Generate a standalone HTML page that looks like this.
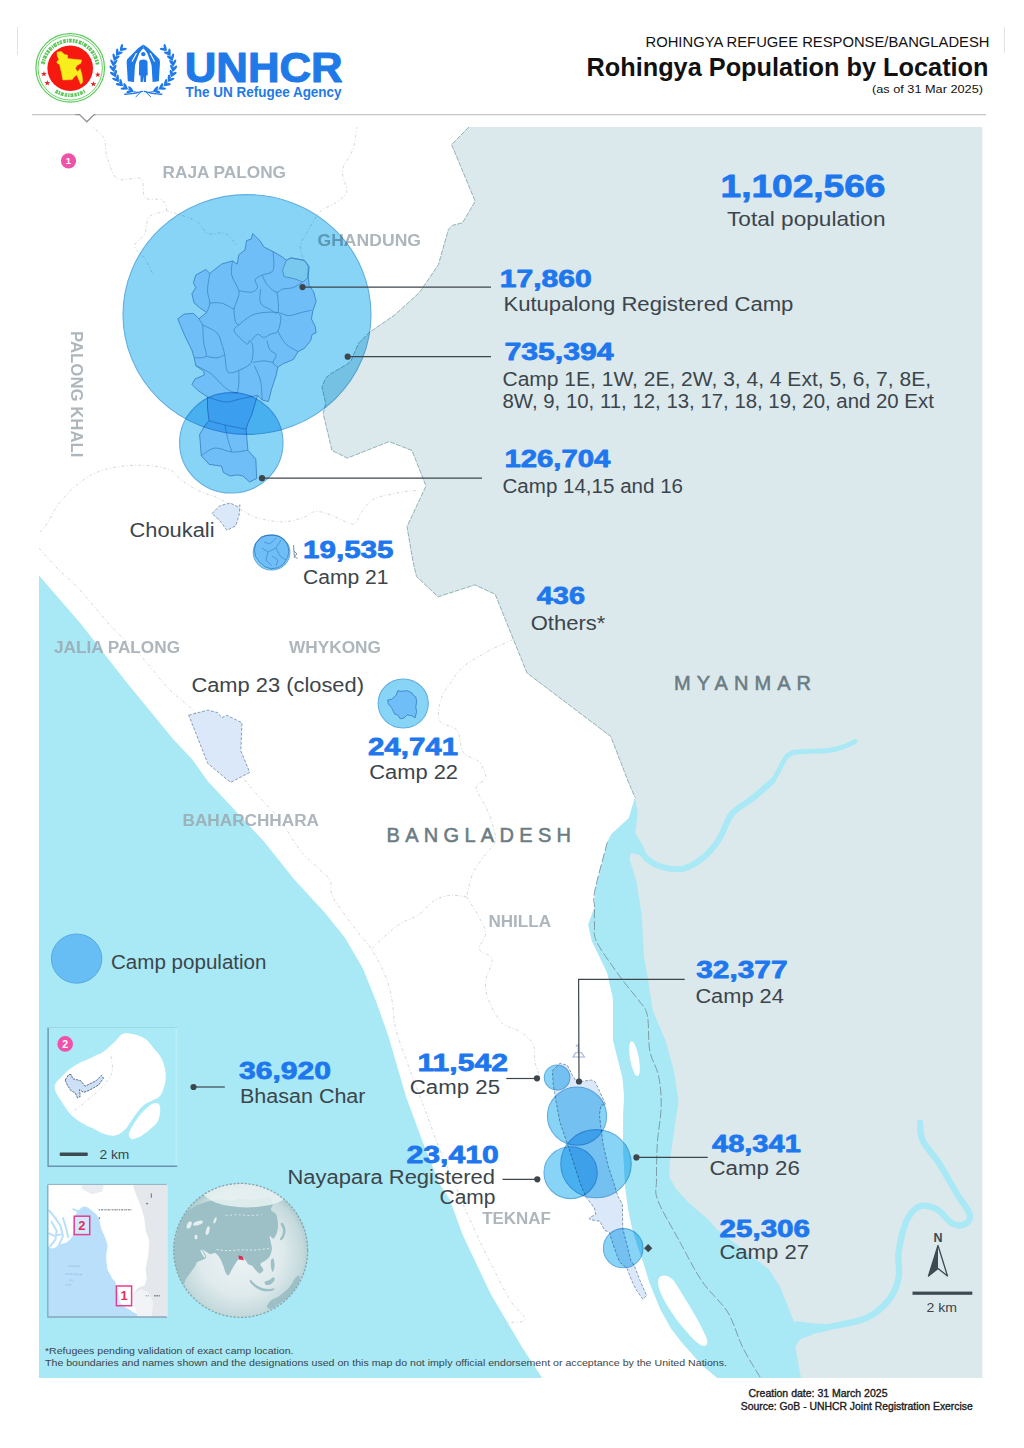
<!DOCTYPE html>
<html lang="en"><head><meta charset="utf-8">
<title>Rohingya Population by Location</title>
<style>
html,body{margin:0;padding:0;background:#fff;}
body{width:1024px;height:1448px;overflow:hidden;font-family:"Liberation Sans",sans-serif;}
svg{display:block;position:absolute;left:0;top:0;}
svg text{font-family:"Liberation Sans",sans-serif;}
.num{font-weight:bold;fill:#1f77ee;stroke:#1f77ee;stroke-width:0.8px;stroke-linejoin:round;}
.lab{fill:#3c454b;}
.reg{font-weight:bold;fill:#98a4ab;fill-opacity:.8;}
.ctry{font-weight:normal;fill:#6b7d83;stroke:#6b7d83;stroke-width:.55px;}
.ld{stroke:#3d464c;stroke-width:1.2;fill:none;}
.dot{fill:#3d464c;}
.circ{fill:#87d4f7;stroke:#62aee0;stroke-width:1.1;mix-blend-mode:multiply;}
.camp{fill:#d3e5ff;stroke:#6394c6;stroke-opacity:.9;stroke-width:.9;stroke-linejoin:round;}
.campo{fill:#dbe8f9;stroke:#7d95ad;stroke-width:.9;stroke-dasharray:3 1.6;stroke-linejoin:round;}
.ub{fill:none;stroke:#c9ced2;stroke-width:.8;stroke-dasharray:3 2.2 1 2.2;}
</style></head><body>
<svg width="1024" height="1448" viewBox="0 0 1024 1448">
<rect x="0" y="0" width="1024" height="1448" fill="#ffffff"/>
<rect x="17" y="27" width="1" height="28" fill="#e2e2e2"/>
<rect x="1004" y="27" width="1" height="26" fill="#e2e2e2"/>
<path d="M32,114.6 L76,114.6 M95,114.6 L986,114.6" fill="none" stroke="#c4c6c8" stroke-width="1.3"/>
<path d="M75.5,114.6 L79.5,114.6 L86.8,121.8 L94.2,114.6 L95.5,114.6" fill="none" stroke="#8e9092" stroke-width="1.3"/>
<circle cx="70.2" cy="67.9" r="34.3" fill="#fff" stroke="#5bcb58" stroke-width="1.2"/>
<circle cx="70.2" cy="67.9" r="32.2" fill="none" stroke="#5bcb58" stroke-width=".9"/>
<path d="M42.9,64.1 A27.6,27.6 0 0 1 97.6,65.0" fill="none" stroke="#58c455" stroke-width="3.8" stroke-dasharray="2.7 .9 1.3 .8 3.1 1 1.9 .8 2.3 1.1"/>
<path d="M42.9,64.1 A27.6,27.6 0 0 1 97.6,65.0" fill="none" stroke="#fff" stroke-width=".9" stroke-dasharray="1.2 2.1 .8 1.7" opacity=".8"/>
<path d="M55.7,91.1 A27.4,27.4 0 0 0 84.7,91.1" fill="none" stroke="#58c455" stroke-width="3.6" stroke-dasharray="2.5 .8 1.6 .9 2.9 1"/>
<path d="M55.7,91.1 A27.4,27.4 0 0 0 84.7,91.1" fill="none" stroke="#fff" stroke-width=".9" stroke-dasharray="1 1.9 .7 1.6" opacity=".8"/>
<circle cx="70.2" cy="68.2" r="22.8" fill="#f5190f"/>
<polygon points="57.0,52.2 61.2,51.4 64.4,54.6 67.5,55.0 67.5,58.5 73.8,59.2 81.6,60.0 80.8,63.2 76.9,65.5 75.3,68.6 77.7,71.8 80.0,68.6 82.0,74.9 82.7,81.9 80.8,84.2 78.4,78.8 76.9,74.9 74.5,76.4 72.2,79.6 62.8,80.0 62.0,74.9 60.5,68.6 59.7,64.7 56.6,62.4 58.9,59.2 57.3,56.1" fill="#f8ee1c" stroke="#f8ee1c" stroke-width=".5" stroke-linejoin="round"/>
<polygon points="43.9,71.1 44.6,73.1 46.8,73.2 45.1,74.5 45.7,76.5 43.9,75.3 42.1,76.5 42.7,74.5 41.0,73.2 43.2,73.1" fill="#e3262a"/>
<polygon points="47.3,80.1 48.0,82.1 50.2,82.2 48.5,83.5 49.1,85.5 47.3,84.3 45.5,85.5 46.1,83.5 44.4,82.2 46.6,82.1" fill="#e3262a"/>
<polygon points="97.8,71.7 98.5,73.7 100.7,73.8 99.0,75.1 99.6,77.1 97.8,76.0 96.0,77.1 96.6,75.1 94.9,73.8 97.1,73.7" fill="#e3262a"/>
<polygon points="93.4,81.1 94.1,83.1 96.3,83.2 94.6,84.5 95.2,86.5 93.4,85.3 91.6,86.5 92.2,84.5 90.5,83.2 92.7,83.1" fill="#e3262a"/>
<ellipse cx="121.5" cy="47.5" rx="3.5" ry="1.3" fill="#1f7ae8" transform="rotate(-78 121.5 47.5)"/>
<ellipse cx="123.3" cy="49.3" rx="3.5" ry="1.3" fill="#1f7ae8" transform="rotate(-10 123.3 49.3)"/>
<ellipse cx="117.2" cy="51.9" rx="3.5" ry="1.3" fill="#1f7ae8" transform="rotate(-90 117.2 51.9)"/>
<ellipse cx="119.4" cy="53.3" rx="3.5" ry="1.3" fill="#1f7ae8" transform="rotate(-22 119.4 53.3)"/>
<ellipse cx="114.1" cy="57.0" rx="3.5" ry="1.3" fill="#1f7ae8" transform="rotate(-104 114.1 57.0)"/>
<ellipse cx="116.6" cy="57.9" rx="3.5" ry="1.3" fill="#1f7ae8" transform="rotate(-36 116.6 57.9)"/>
<ellipse cx="112.4" cy="62.6" rx="3.5" ry="1.3" fill="#1f7ae8" transform="rotate(-118 112.4 62.6)"/>
<ellipse cx="114.9" cy="62.8" rx="3.5" ry="1.3" fill="#1f7ae8" transform="rotate(-50 114.9 62.8)"/>
<ellipse cx="112.0" cy="68.4" rx="3.5" ry="1.3" fill="#1f7ae8" transform="rotate(-132 112.0 68.4)"/>
<ellipse cx="114.5" cy="68.0" rx="3.5" ry="1.3" fill="#1f7ae8" transform="rotate(-64 114.5 68.0)"/>
<ellipse cx="113.0" cy="74.2" rx="3.5" ry="1.3" fill="#1f7ae8" transform="rotate(-146 113.0 74.2)"/>
<ellipse cx="115.4" cy="73.2" rx="3.5" ry="1.3" fill="#1f7ae8" transform="rotate(-78 115.4 73.2)"/>
<ellipse cx="115.5" cy="79.6" rx="3.5" ry="1.3" fill="#1f7ae8" transform="rotate(-159 115.5 79.6)"/>
<ellipse cx="117.6" cy="78.1" rx="3.5" ry="1.3" fill="#1f7ae8" transform="rotate(-91 117.6 78.1)"/>
<ellipse cx="119.3" cy="84.5" rx="3.5" ry="1.3" fill="#1f7ae8" transform="rotate(-172 119.3 84.5)"/>
<ellipse cx="121.0" cy="82.5" rx="3.5" ry="1.3" fill="#1f7ae8" transform="rotate(-104 121.0 82.5)"/>
<ellipse cx="124.1" cy="88.5" rx="3.5" ry="1.3" fill="#1f7ae8" transform="rotate(176 124.1 88.5)"/>
<ellipse cx="125.4" cy="86.3" rx="3.5" ry="1.3" fill="#1f7ae8" transform="rotate(-116 125.4 86.3)"/>
<ellipse cx="129.8" cy="91.5" rx="3.5" ry="1.3" fill="#1f7ae8" transform="rotate(165 129.8 91.5)"/>
<ellipse cx="130.7" cy="89.1" rx="3.5" ry="1.3" fill="#1f7ae8" transform="rotate(-127 130.7 89.1)"/>
<path d="M119.7,51.1 A30.0,25.8 0 0 0 138.1,92.4" fill="none" stroke="#1f7ae8" stroke-width=".8"/>
<ellipse cx="165.1" cy="47.5" rx="3.5" ry="1.3" fill="#1f7ae8" transform="rotate(258 165.1 47.5)"/>
<ellipse cx="163.3" cy="49.3" rx="3.5" ry="1.3" fill="#1f7ae8" transform="rotate(190 163.3 49.3)"/>
<ellipse cx="169.4" cy="51.9" rx="3.5" ry="1.3" fill="#1f7ae8" transform="rotate(270 169.4 51.9)"/>
<ellipse cx="167.2" cy="53.3" rx="3.5" ry="1.3" fill="#1f7ae8" transform="rotate(202 167.2 53.3)"/>
<ellipse cx="172.5" cy="57.0" rx="3.5" ry="1.3" fill="#1f7ae8" transform="rotate(284 172.5 57.0)"/>
<ellipse cx="170.0" cy="57.9" rx="3.5" ry="1.3" fill="#1f7ae8" transform="rotate(216 170.0 57.9)"/>
<ellipse cx="174.2" cy="62.6" rx="3.5" ry="1.3" fill="#1f7ae8" transform="rotate(298 174.2 62.6)"/>
<ellipse cx="171.7" cy="62.8" rx="3.5" ry="1.3" fill="#1f7ae8" transform="rotate(230 171.7 62.8)"/>
<ellipse cx="174.6" cy="68.4" rx="3.5" ry="1.3" fill="#1f7ae8" transform="rotate(312 174.6 68.4)"/>
<ellipse cx="172.1" cy="68.0" rx="3.5" ry="1.3" fill="#1f7ae8" transform="rotate(244 172.1 68.0)"/>
<ellipse cx="173.6" cy="74.2" rx="3.5" ry="1.3" fill="#1f7ae8" transform="rotate(326 173.6 74.2)"/>
<ellipse cx="171.2" cy="73.2" rx="3.5" ry="1.3" fill="#1f7ae8" transform="rotate(258 171.2 73.2)"/>
<ellipse cx="171.1" cy="79.6" rx="3.5" ry="1.3" fill="#1f7ae8" transform="rotate(339 171.1 79.6)"/>
<ellipse cx="169.0" cy="78.1" rx="3.5" ry="1.3" fill="#1f7ae8" transform="rotate(271 169.0 78.1)"/>
<ellipse cx="167.3" cy="84.5" rx="3.5" ry="1.3" fill="#1f7ae8" transform="rotate(352 167.3 84.5)"/>
<ellipse cx="165.6" cy="82.5" rx="3.5" ry="1.3" fill="#1f7ae8" transform="rotate(284 165.6 82.5)"/>
<ellipse cx="162.5" cy="88.5" rx="3.5" ry="1.3" fill="#1f7ae8" transform="rotate(4 162.5 88.5)"/>
<ellipse cx="161.2" cy="86.3" rx="3.5" ry="1.3" fill="#1f7ae8" transform="rotate(296 161.2 86.3)"/>
<ellipse cx="156.8" cy="91.5" rx="3.5" ry="1.3" fill="#1f7ae8" transform="rotate(15 156.8 91.5)"/>
<ellipse cx="155.9" cy="89.1" rx="3.5" ry="1.3" fill="#1f7ae8" transform="rotate(307 155.9 89.1)"/>
<path d="M166.9,51.1 A30.0,25.8 0 0 1 148.5,92.4" fill="none" stroke="#1f7ae8" stroke-width=".8"/>
<path d="M124.80000000000001,94.2 Q135.3,93.8 142.3,91.4 M161.8,94.2 Q151.3,93.8 144.3,91.4" fill="none" stroke="#1f7ae8" stroke-width="1.5" stroke-linecap="round"/>
<path d="M140.3,92.5 L135.9,96.8 M146.3,92.5 L150.70000000000002,96.8" stroke="#1f7ae8" stroke-width="1" stroke-linecap="round"/>
<path d="M143.3,44.6 L138.0,48.3 L127.2,59.3 L126.6,62 L127.8,81.3 L134.0,82 L135.0,65.5 L136.4,61 L139.2,53.5 L141.6,50 L143.3,48.4 Z" fill="#1f7ae8"/>
<path d="M132.2,61.2 L136.3,53.6" stroke="#fff" stroke-width="1.1" stroke-linecap="round"/>
<path d="M143.3,44.6 L148.6,48.3 L159.4,59.3 L160.0,62 L158.8,81.3 L152.6,82 L151.6,65.5 L150.2,61 L147.4,53.5 L145.0,50 L143.3,48.4 Z" fill="#1f7ae8"/>
<path d="M154.4,61.2 L150.3,53.6" stroke="#fff" stroke-width="1.1" stroke-linecap="round"/>
<circle cx="143.3" cy="54.2" r="2.15" fill="#1f7ae8"/>
<path d="M139.10000000000002,62 Q139.3,59.6 143.3,59.4 Q147.3,59.6 147.5,62 L147.70000000000002,75.2 L146.20000000000002,75.6 L146.0,82 L143.8,82 L143.3,76.5 L142.8,82 L140.60000000000002,82 L140.4,75.6 L138.9,75.2 Z" fill="#1f7ae8"/>
<text x="184.7" y="82" font-size="42" font-weight="bold" fill="#1f7ae8" stroke="#1f7ae8" stroke-width="1.1" stroke-linejoin="round" textLength="158" lengthAdjust="spacingAndGlyphs">UNHCR</text>
<text x="185.6" y="96.7" font-size="14.6" font-weight="bold" fill="#1f7ae8" textLength="156" lengthAdjust="spacingAndGlyphs">The UN Refugee Agency</text>
<text x="989.5" y="47.1" font-size="14.2" fill="#111" text-anchor="end" textLength="344" lengthAdjust="spacingAndGlyphs">ROHINGYA REFUGEE RESPONSE/BANGLADESH</text>
<text x="988.5" y="75.6" font-size="25" font-weight="bold" fill="#111" text-anchor="end" textLength="402" lengthAdjust="spacingAndGlyphs">Rohingya Population by Location</text>
<text x="983" y="93.4" font-size="11.6" fill="#111" text-anchor="end" textLength="111" lengthAdjust="spacingAndGlyphs">(as of 31 Mar 2025)</text>
<defs><clipPath id="mapclip"><rect x="39" y="127" width="943.5" height="1251"/></clipPath></defs>
<g clip-path="url(#mapclip)">
<path d="M39.0,575.5 L80.8,623.8 L126.5,682.2 L172.2,738.0 L192.7,760.0 L207.8,781.2 L230.8,805.7 L263.8,841.3 L294.3,879.4 L324.7,912.4 L345.0,937.8 L362.8,968.2 L373.0,993.6 L375.6,1000.0 L388.2,1035.6 L406.0,1096.5 L423.8,1144.7 L439.0,1182.8 L450.0,1200.0 L462.5,1234.4 L490.6,1293.8 L521.9,1346.9 L542.2,1378.0 L39.0,1378.0 Z" fill="#a8e9f5"/>
<path d="M468.9,127.0 L451.6,144.6 L475.2,201.3 L462.5,222.8 L452.4,225.4 L448.5,229.2 L438.4,264.7 L419.3,292.7 L394.0,315.5 L369.8,332.0 L358.4,343.5 L350.8,361.2 L347.3,364.1 L330.5,373.9 L325.7,378.1 L321.9,387.0 L325.7,403.5 L323.2,413.6 L332.0,450.5 L347.3,458.1 L389.2,441.6 L412.0,450.5 L426.0,486.0 L407.0,526.6 L412.7,560.0 L416.5,576.5 L438.1,596.8 L474.9,584.9 L495.2,594.3 L527.0,673.0 L610.8,736.5 L627.6,780.0 L635.0,797.5 L628.9,818.1 L611.1,834.6 L607.3,842.2 L594.6,891.7 L594.6,907.0 L588.2,924.7 L592.0,941.3 L607.3,973.0 L612.4,995.8 L613.0,1000.0 L613.0,1040.0 L617.7,1058.7 L622.4,1077.3 L624.2,1096.0 L623.3,1114.6 L623.0,1133.3 L623.3,1152.0 L624.2,1170.6 L625.5,1189.3 L628.0,1207.9 L631.7,1226.6 L637.3,1245.2 L643.8,1263.9 L649.4,1282.5 L660.5,1309.5 L671.3,1328.8 L681.9,1342.5 L702.2,1365.4 L717.4,1378.0 L982.5,1378.0 L982.5,127.0 Z" fill="#dbe8ec"/>
<path d="M468.9,127.0 L451.6,144.6 L475.2,201.3 L462.5,222.8 L452.4,225.4 L448.5,229.2 L438.4,264.7 L419.3,292.7 L394.0,315.5 L369.8,332.0 L358.4,343.5 L350.8,361.2 L347.3,364.1 L330.5,373.9 L325.7,378.1 L321.9,387.0 L325.7,403.5 L323.2,413.6 L332.0,450.5 L347.3,458.1 L389.2,441.6 L412.0,450.5 L426.0,486.0 L407.0,526.6 L412.7,560.0 L416.5,576.5 L438.1,596.8 L474.9,584.9 L495.2,594.3 L527.0,673.0 L610.8,736.5 L627.6,780.0 L635.0,797.5" fill="none" stroke="#8fb3b8" stroke-width="1" stroke-dasharray="5 1.2"/>
<path d="M635.0,797.5 L628.9,818.1 L611.1,834.6 L607.3,842.2 L594.6,891.7 L594.6,907.0 L588.2,924.7 L592.0,941.3 L607.3,973.0 L612.4,995.8 L613.0,1000.0 L613.0,1040.0 L617.7,1058.7 L622.4,1077.3 L624.2,1096.0 L623.3,1114.6 L623.0,1133.3 L623.3,1152.0 L624.2,1170.6 L625.5,1189.3 L628.0,1207.9 L631.7,1226.6 L637.3,1245.2 L643.8,1263.9 L649.4,1282.5 L660.5,1309.5 L671.3,1328.8 L681.9,1342.5 L702.2,1365.4 L717.4,1378.0 L801.0,1378.0 L798.0,1362.0 L795.5,1347.0 L800.0,1339.0 L812.0,1335.0 L812.0,1326.0 L803.0,1329.0 L796.2,1327.3 L780.0,1286.7 L768.5,1269.0 L716.6,1229.3 L708.4,1219.7 L687.9,1202.0 L675.5,1188.3 L669.4,1177.3 L669.6,1162.4 L674.0,1132.0 L678.5,1101.6 L674.0,1071.2 L665.6,1040.8 L652.7,1010.4 L648.1,980.0 L644.1,957.8 L641.6,914.6 L636.5,881.6 L629.5,859.0 L631.0,853.0 L640.0,855.0 L645.0,850.0 L641.6,843.5 L635.2,833.3 L637.8,813.0 L635.0,797.5 Z" fill="#a8e9f5"/>
<path d="M637.8,847.0 C639.5,849.1 643.7,856.3 647.9,859.7 C652.1,863.1 657.3,865.8 663.2,867.3 C669.1,868.8 676.7,870.3 683.5,868.6 C690.3,866.9 697.9,862.0 703.8,857.1 C709.7,852.2 714.4,846.6 719.0,839.4 C723.6,832.2 726.2,820.8 731.7,814.0 C737.2,807.2 745.2,804.2 752.0,798.7 C758.8,793.2 766.5,788.2 772.4,781.0 C778.3,773.8 782.5,760.5 787.6,755.6 C792.7,750.7 796.0,752.6 802.8,751.7 C809.6,750.9 821.4,751.3 828.2,750.5 C835.0,749.7 839.0,748.2 843.5,746.7 C848.0,745.2 853.0,742.5 854.9,741.6" fill="none" stroke="#a8e9f5" stroke-width="4.8" stroke-linecap="round"/>
<path d="M637.8,847.0 C639.5,849.1 643.7,856.3 647.9,859.7 C652.1,863.1 657.3,865.8 663.2,867.3 C669.1,868.8 676.7,870.3 683.5,868.6 C690.3,866.9 697.9,862.0 703.8,857.1 C709.7,852.2 714.4,846.6 719.0,839.4 C723.6,832.2 726.2,820.8 731.7,814.0 C737.2,807.2 745.2,804.2 752.0,798.7 C758.8,793.2 769.0,784.0 772.4,781.0" fill="none" stroke="#a8e9f5" stroke-width="6" stroke-linecap="round"/>
<path d="M800.0,1334.0 C804.6,1332.9 816.6,1329.9 827.5,1327.3 C838.4,1324.7 855.5,1322.9 865.6,1318.4 C875.8,1314.0 882.9,1307.4 888.4,1300.6 C893.9,1293.8 896.9,1285.8 898.6,1277.8 C900.3,1269.8 897.3,1261.7 898.6,1252.4 C899.9,1243.1 902.8,1229.5 906.2,1221.9 C909.6,1214.3 913.8,1208.8 918.9,1206.7 C924.0,1204.6 931.2,1206.5 936.7,1209.2 C942.2,1212.0 947.2,1220.7 951.9,1223.2 C956.5,1225.7 961.6,1225.9 964.6,1224.4 C967.6,1222.9 971.0,1219.4 969.7,1214.3 C968.4,1209.2 962.1,1202.5 957.0,1194.0 C951.9,1185.5 944.9,1172.4 939.2,1163.5 C933.5,1154.6 925.9,1147.4 922.7,1140.6 C919.5,1133.8 920.6,1125.9 920.2,1122.9" fill="none" stroke="#a8e9f5" stroke-width="6.3" stroke-linecap="round"/>
<path d="M795,1321 L812,1323.2 L828,1324.3 L828,1330.6 L812,1333.5 L803,1337 L796,1343 Z" fill="#a8e9f5"/>
<ellipse cx="634.5" cy="1058.7" rx="4.4" ry="17.6" fill="#fff" transform="rotate(-10 634.5 1058.7)"/>
<path d="M658.5,1279 C661,1273 671,1275 676,1284 C686,1300 700,1322 706.5,1338 C709,1346 705,1348 699,1344 C688,1335 672,1315 664,1300 C660,1292 657,1285 658.5,1279 Z" fill="#fff"/>
<path d="M607.3,842.2 C605.2,850.5 596.7,880.9 594.6,891.7 C592.5,902.5 594.6,901.5 594.6,907.0 C594.6,912.5 594.1,919.1 594.5,925.0 C594.9,930.9 592.6,933.7 597.0,942.5 C601.4,951.3 614.1,968.4 621.0,978.0 C627.9,987.6 634.0,993.8 638.4,1000.0 C642.8,1006.2 645.4,1006.7 647.3,1015.2 C649.2,1023.7 647.9,1040.6 649.8,1050.8 C651.7,1061.0 656.8,1066.9 658.7,1076.2 C660.6,1085.5 661.4,1095.7 661.2,1106.7 C661.0,1117.7 658.2,1130.0 657.4,1142.2 C656.6,1154.4 656.4,1170.3 656.5,1180.0 C656.6,1189.7 654.0,1190.1 657.8,1200.3 C661.6,1210.5 672.0,1227.5 679.4,1241.0 C686.8,1254.5 694.2,1269.8 702.2,1281.6 C710.2,1293.4 720.8,1301.0 727.6,1312.0 C734.4,1323.0 737.3,1336.6 742.8,1347.6 C748.3,1358.6 757.6,1372.9 760.6,1378.0" fill="none" stroke="#7f9da6" stroke-width="1" stroke-dasharray="9 2.5"/>
<path class="ub" d="M82.0,120.0 C85.5,122.8 98.8,130.5 103.0,136.8 C107.2,143.1 104.8,150.8 107.2,157.8 C109.7,164.8 112.1,175.3 117.7,178.8 C123.3,182.3 136.2,175.7 140.8,178.8 C145.4,182.0 141.5,194.2 145.0,197.7 C148.5,201.2 158.3,197.7 161.8,199.8 C165.3,201.9 168.1,207.5 166.0,210.3 C163.9,213.1 152.7,212.8 149.2,216.6 C145.7,220.4 147.4,228.5 145.0,233.4 C142.6,238.3 134.5,241.8 134.5,246.0 C134.5,250.2 141.8,253.8 145.0,258.6 C148.2,263.4 152.0,272.3 153.4,275.0"/>
<path class="ub" d="M166.0,210.3 C170.9,212.1 188.4,217.0 195.4,220.8 C202.4,224.7 203.1,231.3 208.0,233.4 C212.9,235.5 219.9,231.3 224.8,233.4 C229.7,235.5 235.3,243.9 237.4,246.0"/>
<path class="ub" d="M357.1,126.3 C356.4,130.2 355.3,142.1 352.9,149.4 C350.4,156.8 343.4,163.4 342.4,170.4 C341.3,177.4 348.0,185.8 346.6,191.4 C345.2,197.0 338.2,200.8 334.0,204.0 C329.8,207.2 325.6,206.1 321.4,210.3 C317.2,214.5 312.3,223.2 308.8,229.2 C305.3,235.1 301.1,240.4 300.4,246.0 C299.7,251.6 303.9,260.0 304.6,262.8"/>
<path class="ub" d="M40.0,532.0 C41.1,530.7 43.6,528.8 46.8,524.0 C50.0,519.2 53.8,510.0 59.4,503.0 C65.0,496.0 72.7,487.6 80.4,482.0 C88.1,476.4 95.8,472.2 105.6,469.4 C115.4,466.6 128.7,465.2 139.2,465.2 C149.7,465.2 161.6,466.9 168.6,469.4 C175.6,471.9 176.3,476.5 181.2,480.0 C186.1,483.5 192.4,487.6 198.0,490.4 C203.6,493.2 209.9,494.6 214.8,496.7 C219.7,498.8 225.3,501.9 227.4,503.0"/>
<path class="ub" d="M240.0,509.3 C242.8,510.7 249.8,515.6 256.8,517.7 C263.8,519.8 274.3,521.9 282.0,521.9 C289.7,521.9 297.4,519.5 303.0,517.7 C308.6,516.0 310.7,511.8 315.6,511.4 C320.5,511.0 326.1,513.5 332.4,515.6 C338.7,517.7 348.5,524.7 353.4,524.0 C358.3,523.3 358.3,515.6 361.8,511.4 C365.3,507.2 368.1,501.9 374.4,498.8 C380.7,495.7 392.6,493.9 399.6,492.5 C406.6,491.1 413.6,490.8 416.4,490.4"/>
<path class="ub" d="M39.0,548.0 C41.7,551.0 48.2,559.0 55.0,566.0 C61.8,573.0 70.8,580.2 80.0,590.0 C89.2,599.8 100.0,614.2 110.0,625.0 C120.0,635.8 130.0,644.2 140.0,655.0 C150.0,665.8 160.8,680.5 170.0,690.0 C179.2,699.5 186.7,702.8 195.0,712.0 C203.3,721.2 211.7,733.7 220.0,745.0 C228.3,756.3 238.0,770.8 245.0,780.0 C252.0,789.2 256.2,793.3 262.0,800.0 C267.8,806.7 273.7,811.7 280.0,820.0 C286.3,828.3 293.7,842.0 300.0,850.0 C306.3,858.0 313.0,863.0 318.0,868.0 C323.0,873.0 327.7,875.5 330.0,880.0 C332.3,884.5 329.5,889.2 332.0,895.0 C334.5,900.8 340.3,908.3 345.0,915.0 C349.7,921.7 355.5,929.2 360.0,935.0 C364.5,940.8 367.8,943.3 372.0,950.0 C376.2,956.7 381.7,966.7 385.0,975.0 C388.3,983.3 390.2,990.8 392.0,1000.0 C393.8,1009.2 393.0,1018.3 396.0,1030.0 C399.0,1041.7 405.2,1056.7 410.0,1070.0 C414.8,1083.3 420.0,1096.7 425.0,1110.0 C430.0,1123.3 435.0,1137.5 440.0,1150.0 C445.0,1162.5 450.0,1173.3 455.0,1185.0 C460.0,1196.7 464.2,1207.2 470.0,1220.0 C475.8,1232.8 483.3,1248.7 490.0,1262.0 C496.7,1275.3 504.2,1290.3 510.0,1300.0 C515.8,1309.7 526.7,1316.3 525.0,1320.0 C523.3,1323.7 504.2,1321.7 500.0,1322.0"/>
<path class="ub" d="M512.6,639.7 C508.6,641.6 497.0,646.3 488.8,650.8 C480.6,655.3 469.8,661.4 463.4,666.7 C457.0,672.0 454.4,677.3 450.7,682.6 C447.0,687.9 443.0,692.1 441.2,698.5 C439.4,704.9 437.0,715.4 439.6,720.7 C442.2,726.0 453.0,724.9 457.0,730.2 C461.0,735.5 459.7,747.2 463.4,752.5 C467.1,757.8 475.6,757.8 479.3,762.0 C483.0,766.2 486.1,773.7 485.6,777.9 C485.1,782.1 476.1,782.6 476.1,787.4 C476.1,792.2 483.0,800.7 485.6,806.5 C488.2,812.3 490.4,816.6 492.0,822.4 C493.6,828.2 496.3,836.1 495.2,841.4 C494.1,846.7 489.3,848.8 485.6,854.1 C481.9,859.4 476.1,866.1 472.9,873.2 C469.7,880.4 467.7,893.0 466.6,897.0"/>
<path class="ub" d="M466.6,897.0 C464.0,896.7 456.0,894.9 450.7,895.4 C445.4,895.9 440.1,897.0 434.8,900.2 C429.5,903.4 424.7,910.5 418.9,914.5 C413.1,918.5 405.7,920.3 399.9,924.0 C394.1,927.7 388.8,932.5 384.0,936.7 C379.2,940.9 373.4,947.3 371.3,949.4"/>
<path class="ub" d="M466.6,897.0 C468.7,900.4 476.1,911.5 479.3,917.6 C482.5,923.7 485.6,928.2 485.6,933.5 C485.6,938.8 478.2,945.1 479.3,949.4 C480.4,953.6 490.9,953.7 492.0,959.0 C493.1,964.3 486.1,974.3 485.6,981.2 C485.1,988.1 486.2,993.4 488.8,1000.3 C491.4,1007.2 496.2,1017.2 501.5,1022.5 C506.8,1027.8 515.3,1028.3 520.6,1032.0 C525.9,1035.7 530.9,1039.7 533.3,1044.7 C535.7,1049.7 533.9,1056.5 535.0,1062.0 C536.1,1067.5 539.2,1075.3 540.0,1078.0"/>
<path d="M578.3,1044.5 L578.3,1052.5 M575.8,1046.5 L578.3,1044.5 M573,1057 L575.5,1052.8 L581.5,1052.8 L584.5,1057 Z" fill="none" stroke="#9fb4d4" stroke-width="1.1"/>
<path class="campo" d="M188.7,715.2 L207.8,710.1 L217.9,712.7 L221.7,717.8 L226.8,715.2 L242.0,722.8 L240.8,750.8 L249.7,772.4 L230.6,782.5 L207.8,763.5 Z"/>
<path class="campo" d="M211.9,513.6 L219.8,505.7 L230.3,503.0 L237.3,506.6 L240.0,504.8 L239.1,515.3 L235.6,525.9 L226.8,530.3 L219.8,520.6 Z"/>
<path class="campo" d="M552.4,1070.8 L559.9,1063.3 L567.3,1065.2 L572.0,1074.5 L576.6,1082.0 L591.6,1080.1 L595.3,1082.0 L605.6,1104.4 L600.9,1105.3 L599.4,1114.6 L600.9,1127.7 L603.1,1144.5 L608.4,1166.9 L614.0,1183.7 L617.7,1195.8 L622.4,1204.2 L622.7,1228.4 L627.0,1245.2 L630.7,1260.1 L634.5,1266.1 L640.1,1280.7 L646.6,1295.6 L642.9,1299.3 L636.3,1290.0 L631.7,1280.7 L627.0,1268.5 L619.6,1262.0 L614.0,1247.1 L609.3,1232.2 L604.6,1230.3 L600.0,1221.3 L589.7,1219.5 L590.1,1216.9 L595.7,1215.0 L594.4,1207.9 L586.0,1197.1 L580.4,1183.7 L570.1,1151.9 L559.9,1122.1 L556.1,1101.6 L553.3,1084.8 Z"/>
<path class="camp" d="M252.8,233.6 L259.8,240.6 L263.8,246.9 L273.1,251.6 L282.5,257.0 L286.4,260.2 L291.1,257.8 L304.4,260.2 L309.1,266.4 L308.3,276.6 L309.1,285.2 L313.8,292.2 L316.1,301.6 L313.0,310.2 L311.4,318.8 L315.3,326.6 L316.1,332.8 L312.2,334.4 L310.6,340.6 L304.4,348.4 L298.1,351.6 L293.4,359.4 L282.5,364.1 L277.8,367.2 L276.2,375.0 L271.6,389.1 L268.4,401.6 L262.2,400.0 L257.5,395.3 L251.6,415.0 L248.0,423.0 L246.1,429.2 L247.0,439.8 L247.9,450.3 L255.8,459.1 L256.7,478.4 L249.6,482.0 L243.0,476.0 L237.3,474.9 L230.0,476.0 L223.3,472.3 L221.5,466.1 L209.2,464.4 L201.3,455.6 L199.6,434.5 L204.8,425.7 L209.0,420.7 L207.5,408.0 L207.5,396.9 L198.1,390.6 L191.9,384.4 L195.0,378.9 L204.4,375.0 L203.6,371.1 L195.8,365.6 L194.2,357.8 L191.9,350.0 L185.6,337.5 L180.9,326.6 L177.8,318.8 L184.1,314.1 L193.4,313.3 L198.9,318.8 L206.7,312.5 L199.7,307.8 L194.2,303.1 L191.9,293.8 L195.8,287.5 L193.4,282.8 L195.8,275.0 L205.9,269.5 L209.8,273.4 L221.6,264.1 L232.5,260.9 L237.2,264.1 L238.8,254.7 L245.0,250.0 L246.6,240.6 L251.2,239.1 Z"/>
<path d="M209.8,273.4 C209.4,276.3 207.5,285.7 207.5,290.6 C207.5,295.6 209.9,299.5 209.8,303.1 C209.7,306.8 207.2,310.9 206.7,312.5" fill="none" stroke="#6394c6" stroke-opacity=".8" stroke-width=".85"/>
<path d="M232.5,260.9 C232.4,263.2 230.6,270.1 231.7,275.0 C232.8,279.9 237.9,286.4 238.8,290.6 C239.7,294.8 238.0,296.9 237.2,300.0 C236.4,303.1 234.4,305.8 234.1,309.4 C233.8,313.0 234.8,319.3 235.6,321.9 C236.4,324.5 238.3,324.5 238.8,325.0" fill="none" stroke="#6394c6" stroke-opacity=".8" stroke-width=".85"/>
<path d="M238.8,290.6 C240.9,290.9 248.1,292.7 251.2,292.2 C254.3,291.7 256.8,289.6 257.5,287.5 C258.2,285.4 254.4,281.8 255.2,279.7 C256.0,277.6 259.2,276.6 262.2,275.0 C265.2,273.4 271.3,274.2 273.1,270.3 C274.9,266.4 273.1,254.7 273.1,251.6" fill="none" stroke="#6394c6" stroke-opacity=".8" stroke-width=".85"/>
<path d="M262.2,275.0 C263.0,276.6 264.6,281.5 266.9,284.4 C269.2,287.3 273.6,291.4 276.2,292.2 C278.8,293.0 279.6,289.9 282.5,289.1 C285.4,288.3 290.0,288.7 293.4,287.5 C296.8,286.3 301.2,282.9 302.8,282.0" fill="none" stroke="#6394c6" stroke-opacity=".8" stroke-width=".85"/>
<path d="M260.6,289.1 C260.6,291.4 259.0,299.7 260.6,303.1 C262.2,306.5 267.1,307.8 270.0,309.4 C272.9,311.0 276.5,314.6 277.8,312.5 C279.1,310.4 278.1,300.3 277.8,296.9 C277.5,293.5 276.5,293.0 276.2,292.2" fill="none" stroke="#6394c6" stroke-opacity=".8" stroke-width=".85"/>
<path d="M238.8,325.0 C240.9,323.4 247.0,317.7 251.2,315.6 C255.4,313.5 259.4,313.0 263.8,312.5 C268.2,312.0 273.6,312.0 277.8,312.5 C282.0,313.0 284.9,315.6 288.8,315.6 C292.7,315.6 297.4,313.4 301.2,312.5 C305.0,311.6 309.7,310.6 311.4,310.2" fill="none" stroke="#6394c6" stroke-opacity=".8" stroke-width=".85"/>
<path d="M202.8,325.0 C205.2,326.3 213.8,329.7 216.9,332.8 C220.0,335.9 220.3,340.2 221.6,343.8 C222.9,347.4 223.7,350.0 224.7,354.7 C225.7,359.4 225.5,369.3 227.8,371.9 C230.2,374.5 234.9,371.9 238.8,370.3 C242.7,368.7 248.9,366.4 251.2,362.5 C253.5,358.6 253.1,350.5 252.8,346.9 C252.6,343.2 250.7,341.1 249.7,340.6 C248.7,340.1 249.2,345.4 246.6,343.8 C244.0,342.2 235.4,334.3 234.1,331.2 C232.8,328.1 238.0,326.0 238.8,325.0" fill="none" stroke="#6394c6" stroke-opacity=".8" stroke-width=".85"/>
<path d="M202.8,325.0 C202.9,327.9 203.1,337.0 203.6,342.2 C204.1,347.4 207.5,353.6 205.9,356.2 C204.3,358.8 196.1,357.5 194.2,357.8" fill="none" stroke="#6394c6" stroke-opacity=".8" stroke-width=".85"/>
<path d="M205.9,356.2 C207.7,356.5 213.8,358.1 216.9,357.8 C220.0,357.6 223.4,355.2 224.7,354.7" fill="none" stroke="#6394c6" stroke-opacity=".8" stroke-width=".85"/>
<path d="M251.2,340.6 C252.2,339.6 255.4,334.9 257.5,334.4 C259.6,333.9 261.7,337.5 263.8,337.5 C265.9,337.5 267.7,335.4 270.0,334.4 C272.3,333.3 276.0,333.8 277.8,331.2 C279.6,328.6 280.6,321.6 280.9,318.8 C281.2,316.0 279.6,314.9 279.4,314.1" fill="none" stroke="#6394c6" stroke-opacity=".8" stroke-width=".85"/>
<path d="M277.8,331.2 C279.1,333.3 282.2,340.4 285.6,343.8 C289.0,347.2 296.0,350.3 298.1,351.6" fill="none" stroke="#6394c6" stroke-opacity=".8" stroke-width=".85"/>
<path d="M266.9,340.6 C267.4,342.2 268.4,347.6 270.0,350.0 C271.6,352.4 275.7,352.6 276.2,354.7 C276.7,356.8 272.8,360.4 273.1,362.5 C273.4,364.6 277.0,366.4 277.8,367.2" fill="none" stroke="#6394c6" stroke-opacity=".8" stroke-width=".85"/>
<path d="M252.8,362.5 C254.6,362.2 260.4,360.9 263.8,360.9 C267.2,360.9 271.6,362.2 273.1,362.5" fill="none" stroke="#6394c6" stroke-opacity=".8" stroke-width=".85"/>
<path d="M238.8,370.3 C238.8,372.6 239.1,380.6 238.8,384.4 C238.5,388.2 237.5,391.6 237.2,393.0" fill="none" stroke="#6394c6" stroke-opacity=".8" stroke-width=".85"/>
<path d="M254.4,365.6 C255.4,368.2 259.3,375.5 260.6,381.2 C261.9,386.9 261.9,396.9 262.2,400.0" fill="none" stroke="#6394c6" stroke-opacity=".8" stroke-width=".85"/>
<path d="M195.8,365.6 C198.3,366.9 206.3,370.3 210.6,373.4 C214.9,376.5 218.5,381.5 221.6,384.4 C224.7,387.3 226.8,389.2 229.4,390.6 C232.0,392.0 235.9,392.6 237.2,393.0" fill="none" stroke="#6394c6" stroke-opacity=".8" stroke-width=".85"/>
<path d="M198.9,318.8 C199.6,319.8 202.2,324.0 202.8,325.0" fill="none" stroke="#6394c6" stroke-opacity=".8" stroke-width=".85"/>
<path d="M234.1,309.4 C232.0,308.3 225.6,304.2 221.6,303.1 C217.6,302.1 211.8,303.1 209.8,303.1" fill="none" stroke="#6394c6" stroke-opacity=".8" stroke-width=".85"/>
<path d="M209.0,420.7 C211.7,421.4 218.8,423.6 225.0,425.0 C231.2,426.4 242.6,428.5 246.1,429.2" fill="none" stroke="#6394c6" stroke-opacity=".8" stroke-width=".85"/>
<path d="M201.3,455.6 C203.6,454.3 209.9,448.6 215.0,448.0 C220.1,447.4 226.5,451.6 232.0,452.0 C237.5,452.4 245.2,450.6 247.9,450.3" fill="none" stroke="#6394c6" stroke-opacity=".8" stroke-width=".85"/>
<path d="M225.0,425.0 C225.5,427.5 226.8,435.5 228.0,440.0 C229.2,444.5 231.3,450.0 232.0,452.0" fill="none" stroke="#6394c6" stroke-opacity=".8" stroke-width=".85"/>
<path d="M207.5,396.9 C210.4,397.8 219.6,401.6 225.0,402.0 C230.4,402.4 234.6,400.1 240.0,399.0 C245.4,397.9 254.6,395.9 257.5,395.3" fill="none" stroke="#6394c6" stroke-opacity=".8" stroke-width=".85"/>
<path d="M282.5,270.3 L286.4,260.2 L291.1,258.1 L304.4,260.6 L308.3,266.4 L307.5,278.1 L302.8,282.0 L295.0,278.9 L284.1,276.6 Z" fill="#e4f1f5" stroke="#6394c6" stroke-opacity=".85" stroke-width=".8"/>
<path class="camp" d="M387.7,700.0 L391.6,699.2 L396.2,695.3 L397.8,690.7 L401.7,691.4 L407.2,690.7 L411.9,693.0 L413.4,695.3 L415.8,696.9 L416.6,701.6 L415.8,707.1 L416.6,711.8 L415.0,718.0 L411.9,715.7 L407.2,714.9 L404.1,718.0 L400.2,718.8 L397.8,714.9 L394.7,714.1 L391.6,707.8 L388.4,703.9 Z"/>
<path class="camp" d="M261.1,536.8 L265.8,535.6 L272.8,535.2 L279.1,536.4 L283.8,539.5 L287.7,545.0 L288.8,551.2 L287.7,557.5 L283.8,563.8 L278.3,567.7 L271.2,568.8 L265.0,566.9 L259.5,562.2 L255.6,556.7 L254.5,550.5 L255.6,543.4 L258.8,539.5 Z"/>
<path d="M262,548 L268,552 L266,560 L272,566 M268,552 L276,548 L281,540 M276,548 L280,556 L286,560 M272,556 L278,560 L276,566 M264,542 L270,544 L276,538" fill="none" stroke="#6f9cc8" stroke-width=".8" stroke-opacity=".8"/>
<path d="M293.5,545 L294.5,558 M294,551 L297,554 L294.5,556 L297.5,559" fill="none" stroke="#7f8f9c" stroke-width="1"/>
<text class="reg" x="162.5" y="177.5" font-size="16.5" textLength="123.5" lengthAdjust="spacingAndGlyphs">RAJA PALONG</text>
<text class="reg" x="317.5" y="245.5" font-size="16.5" textLength="103.5" lengthAdjust="spacingAndGlyphs">GHANDUNG</text>
<text class="reg" x="54.0" y="653.0" font-size="16" textLength="126.0" lengthAdjust="spacingAndGlyphs">JALIA PALONG</text>
<text class="reg" x="289.0" y="653.4" font-size="16" textLength="92.0" lengthAdjust="spacingAndGlyphs">WHYKONG</text>
<text class="reg" x="182.5" y="825.5" font-size="16" textLength="136.5" lengthAdjust="spacingAndGlyphs">BAHARCHHARA</text>
<text class="reg" x="488.4" y="926.5" font-size="16" textLength="62.6" lengthAdjust="spacingAndGlyphs">NHILLA</text>
<text class="reg" x="482.2" y="1224.0" font-size="16" textLength="68.6" lengthAdjust="spacingAndGlyphs">TEKNAF</text>
<text class="reg" font-size="16" textLength="126.5" lengthAdjust="spacingAndGlyphs" transform="translate(70.5 331) rotate(90)" x="0" y="0">PALONG KHALI</text>

<ellipse class="circ" cx="247" cy="314.5" rx="124" ry="119.9"/>
<ellipse class="circ" cx="231.3" cy="442.8" rx="51.7" ry="50.2"/>
<ellipse class="circ" cx="271.6" cy="552.4" rx="18.3" ry="17.5"/>
<ellipse class="circ" cx="403.2" cy="703.5" rx="25.1" ry="24.5"/>
<ellipse class="circ" cx="557.1" cy="1077.5" rx="12.8" ry="12.5"/>
<ellipse class="circ" cx="577" cy="1116.1" rx="29.6" ry="29.1"/>
<ellipse class="circ" cx="570.6" cy="1172.7" rx="26.6" ry="25.9"/>
<ellipse class="circ" cx="596" cy="1163.7" rx="35.2" ry="34.1"/>
<ellipse class="circ" cx="623.2" cy="1248.2" rx="19.8" ry="19.6"/>
<ellipse cx="76.6" cy="958.6" rx="25.2" ry="24.6" fill="#67bef5" stroke="#58a9e0" stroke-width="1"/>
</g>
<rect x="48.1" y="1027.5" width="129.2" height="138.7" fill="#a9eaf6"/>
<rect x="175.5" y="1027.5" width="1.8" height="138.7" fill="#b9eef7"/>
<path d="M48.1,1027.5 L48.1,1166.2 L177.3,1166.2" fill="none" stroke="#6a94ad" stroke-width="1.4"/>
<path d="M48.1,1027.5 L177.3,1027.5" fill="none" stroke="#9fd6e6" stroke-width="1"/>
<path d="M126.0,1032.9 C127.8,1033.2 133.6,1033.8 137.0,1035.0 C140.4,1036.2 143.8,1037.6 146.5,1039.8 C149.2,1042.0 151.1,1045.3 153.4,1048.0 C155.7,1050.7 158.4,1053.2 160.2,1056.2 C162.0,1059.2 163.4,1062.4 164.3,1065.8 C165.2,1069.2 165.7,1073.3 165.7,1076.7 C165.7,1080.1 165.2,1083.1 164.3,1086.3 C163.4,1089.5 162.0,1093.5 160.2,1095.8 C158.4,1098.1 155.9,1098.5 153.4,1099.9 C150.9,1101.3 147.7,1102.2 145.2,1104.0 C142.7,1105.8 140.6,1108.2 138.3,1110.9 C136.0,1113.6 133.8,1117.2 131.5,1120.4 C129.2,1123.6 127.4,1127.5 124.7,1130.0 C122.0,1132.5 118.5,1134.8 115.1,1135.5 C111.7,1136.2 107.8,1135.2 104.2,1134.1 C100.6,1132.9 96.9,1130.4 93.2,1128.6 C89.5,1126.8 86.0,1125.5 82.3,1123.2 C78.6,1120.9 74.5,1118.2 71.3,1115.0 C68.1,1111.8 65.6,1107.7 63.1,1104.0 C60.6,1100.3 57.7,1096.3 56.3,1093.1 C54.9,1089.9 54.2,1087.4 54.9,1084.9 C55.6,1082.4 58.1,1080.6 60.4,1078.1 C62.7,1075.6 65.4,1072.4 68.6,1069.9 C71.8,1067.4 75.6,1065.1 79.5,1063.0 C83.4,1060.9 88.0,1059.3 91.9,1057.5 C95.8,1055.7 99.6,1054.1 102.8,1052.1 C106.0,1050.0 108.5,1047.5 111.0,1045.2 C113.5,1042.9 116.0,1040.2 117.8,1038.4 C119.6,1036.6 120.5,1035.2 121.9,1034.3 C123.3,1033.4 125.3,1033.1 126.0,1032.9 Z" fill="#fff"/>
<path d="M131.5,1139.6 C131.1,1138.7 128.4,1136.8 128.8,1134.1 C129.2,1131.4 131.9,1126.8 134.2,1123.2 C136.5,1119.6 139.4,1115.4 142.4,1112.2 C145.4,1109.0 149.3,1105.4 152.0,1104.0 C154.7,1102.6 157.4,1102.8 158.8,1104.0 C160.2,1105.2 160.4,1107.9 160.2,1110.9 C160.0,1113.9 159.3,1118.6 157.5,1121.8 C155.7,1125.0 152.3,1127.5 149.3,1130.0 C146.3,1132.5 142.7,1135.2 139.7,1136.8 C136.7,1138.4 132.9,1139.1 131.5,1139.6 Z" fill="#fff"/>
<path class="ub" d="M111.0,1056.2 C111.2,1058.5 112.9,1066.0 112.4,1069.9 C112.0,1073.8 110.6,1076.0 108.3,1079.4 C106.0,1082.8 101.9,1087.2 98.7,1090.4 C95.5,1093.6 92.3,1095.9 89.1,1098.6 C85.9,1101.3 82.5,1104.5 79.5,1106.8 C76.5,1109.1 72.7,1111.3 71.3,1112.2"/>
<path d="M65.2,1080.1 L68.6,1074.6 L71.3,1074.6 L72.7,1078.7 L80.9,1080.8 L85.0,1086.3 L96.0,1080.8 L101.4,1075.3 L103.5,1078.1 L98.7,1084.9 L89.1,1090.4 L83.6,1092.4 L79.5,1089.7 L80.2,1096.5 L77.5,1097.9 L75.4,1093.1 L70.7,1090.4 L67.2,1084.9 Z" fill="#cde0f5" stroke="#566f8a" stroke-width="1" stroke-dasharray="2.4 1" stroke-linejoin="round"/>
<circle cx="65.2" cy="1043.9" r="7.8" fill="#f152a9"/>
<text x="65.2" y="1047.6" font-size="10.5" font-weight="bold" fill="#fff" text-anchor="middle">2</text>
<rect x="59.7" y="1152.6" width="28.1" height="3.3" rx="1" fill="#3d4a52"/>
<text class="lab" x="99.4" y="1158.7" font-size="13" textLength="30" lengthAdjust="spacingAndGlyphs">2 km</text>
<clipPath id="loc"><rect x="47.8" y="1184.4" width="119.3" height="132.6"/></clipPath>
<rect x="47.8" y="1184.4" width="119.3" height="132.6" fill="#fff"/>
<g clip-path="url(#loc)">
<path d="M47.8,1246.0 C48.7,1246.4 51.0,1248.8 52.9,1248.6 C54.8,1248.3 56.9,1245.8 59.2,1244.7 C61.6,1243.7 64.7,1243.5 66.9,1242.2 C69.0,1240.9 70.8,1238.6 71.9,1237.1 C73.0,1235.6 73.0,1236.5 73.5,1233.3 C73.9,1230.1 73.5,1222.1 74.5,1218.1 C75.5,1214.1 77.6,1211.4 79.5,1209.5 C81.5,1207.5 83.4,1206.1 85.9,1206.7 C88.4,1207.3 92.7,1211.1 94.8,1213.0 C96.9,1214.9 97.5,1215.5 98.6,1218.1 C99.6,1220.6 100.1,1225.1 101.1,1228.2 C102.2,1231.4 103.9,1234.2 104.9,1237.1 C106.0,1240.1 107.3,1242.8 107.5,1246.0 C107.7,1249.2 106.2,1252.4 106.2,1256.2 C106.2,1260.0 106.8,1265.9 107.5,1268.9 C108.1,1271.8 109.2,1272.3 110.0,1273.9 C110.9,1275.6 111.7,1277.8 112.6,1279.0 C113.4,1280.3 114.5,1280.3 115.1,1281.6 C115.7,1282.8 115.7,1284.5 116.4,1286.6 C117.0,1288.8 118.3,1291.7 118.9,1294.3 C119.5,1296.8 119.1,1299.8 120.2,1301.9 C121.2,1304.0 123.1,1305.3 125.2,1307.0 C127.4,1308.6 131.0,1310.1 132.9,1312.0 C134.8,1313.9 150.9,1317.3 136.7,1318.4 C122.5,1319.4 62.6,1330.4 47.8,1318.4 C33.0,1306.3 47.8,1258.1 47.8,1246.0 Z" fill="#badffa"/>
<path d="M49.1,1210.5 L55.4,1218.1 L60.5,1225.7 L63.0,1235.9 L59.2,1244.7 M51.6,1221.9 L56.7,1230.8 L55.4,1239.7 L50.3,1246.0 M63.0,1218.1 L66.2,1228.2 L68.1,1237.1 M73.2,1209.2 L78.3,1211.7 L82.1,1209.2 M49.1,1233.3 L54.2,1235.9 L60.5,1234.6" fill="none" stroke="#badffa" stroke-width="2" stroke-linecap="round" stroke-linejoin="round"/>
<path d="M132.9,1184.4 L167.8,1184.4 L167.8,1318.4 L137.9,1318.4 L135.4,1307.0 L132.9,1294.3 L137.9,1287.9 L144.3,1285.4 L146.8,1279.0 L145.6,1268.9 L148.1,1256.2 L149.4,1240.9 L145.6,1230.8 L144.3,1218.1 L140.5,1205.4 L135.4,1192.7 Z" fill="#e4e7ec"/>
<path d="M132.9,1294.3 L140.5,1289.2 L148.1,1291.7 L153.2,1301.9 L151.9,1318.4 L137.9,1318.4 L135.4,1307.0 Z" fill="#f1f3f6"/>
<path d="M80.8,1184.4 L103.7,1184.4 L102.4,1191.4 L92.2,1194.2 L82.1,1189.1 Z" fill="#e9ecf0"/>
<path d="M68.1,1266.3 L79.5,1266.3 M65.6,1273.9 L82.1,1274.6 M69.4,1280.3 L73.2,1280.3 M65.6,1284.7 L71.3,1284.7" stroke="#a2c8ec" stroke-width="1.6" stroke-dasharray="2.2 .8 1.2 .6" fill="none"/>
<path d="M98.6,1209.8 L131.6,1209.8" stroke="#4e575c" stroke-width="1.5" stroke-dasharray="1.5 .8 2.2 .7 .9 .6" opacity=".55"/>
<path d="M145.6,1295.8 L149.4,1295.8" stroke="#9aa2a8" stroke-width="1.4" stroke-dasharray="1 1.2"/>
<path d="M154.2,1295.8 L159.8,1295.8" stroke="#4e575c" stroke-width="1.6" stroke-dasharray="1.6 .7" opacity=".7"/>
<path d="M151.3,1193.3 L151.3,1197.8" stroke="#6b7378" stroke-width="1"/>
<circle cx="147.1" cy="1203.6" r=".9" fill="#6b7378"/><circle cx="99.4" cy="1218.1" r=".9" fill="#7d868c"/>
</g>
<path d="M47.8,1184.4 L47.8,1317 L167.1,1317" fill="none" stroke="#86a7bb" stroke-width="1.3"/>
<path d="M47.8,1184.4 L167.1,1184.4" fill="none" stroke="#8fb0c0" stroke-width="1"/>
<path d="M167.1,1184.4 L167.1,1317" fill="none" stroke="#d9eef4" stroke-width="1"/>
<rect x="74.2" y="1216.2" width="15.5" height="18.4" fill="#fff" fill-opacity=".35" stroke="#e23f8e" stroke-width="1.5"/>
<text x="81.95" y="1230.0" font-size="13" font-weight="bold" fill="#e0305c" text-anchor="middle">2</text>
<rect x="116.4" y="1286" width="15.2" height="19.7" fill="#fff" fill-opacity=".35" stroke="#e23f8e" stroke-width="1.5"/>
<text x="124.0" y="1300.4499999999998" font-size="13" font-weight="bold" fill="#e0305c" text-anchor="middle">1</text>
<defs><radialGradient id="gl" cx="50%" cy="52%" r="52%"><stop offset="0" stop-color="#edf4f5"/><stop offset=".6" stop-color="#dfeaec"/><stop offset=".9" stop-color="#c3d9dc"/><stop offset="1" stop-color="#a9c8cc"/></radialGradient><clipPath id="gclip"><circle cx="240.7" cy="1250.4" r="67"/></clipPath></defs>
<circle cx="240.7" cy="1250.4" r="67" fill="url(#gl)"/>
<g clip-path="url(#gclip)">
<path d="M175.6,1238.6 C176.1,1236.3 177.1,1229.0 178.6,1225.0 C180.1,1220.9 182.7,1217.0 184.7,1214.4 C186.7,1211.7 188.2,1210.8 190.7,1209.1 C193.3,1207.3 196.5,1205.5 199.8,1204.1 C203.1,1202.7 207.1,1201.6 210.4,1200.7 C213.7,1199.9 216.2,1199.0 219.5,1198.9 C222.8,1198.9 226.6,1200.5 230.1,1200.4 C233.6,1200.4 237.2,1198.8 240.7,1198.6 C244.2,1198.5 247.8,1199.5 251.3,1199.5 C254.8,1199.5 258.9,1199.1 261.9,1198.6 C264.9,1198.1 267.6,1195.6 269.5,1196.5 C271.3,1197.4 272.5,1201.5 272.8,1203.8 C273.0,1206.0 270.4,1208.0 271.0,1209.8 C271.5,1211.6 275.1,1212.4 276.3,1214.7 C277.4,1216.9 277.8,1220.5 277.9,1223.4 C278.1,1226.4 277.8,1230.0 277.0,1232.5 C276.3,1235.0 274.6,1238.0 273.4,1238.6 C272.2,1239.1 270.2,1235.1 269.8,1235.9 C269.3,1236.6 270.6,1240.9 271.0,1243.1 C271.3,1245.3 272.1,1246.9 271.9,1249.2 C271.6,1251.4 270.7,1254.7 269.5,1256.7 C268.2,1258.8 265.7,1260.0 264.2,1261.3 C262.6,1262.5 260.5,1262.9 260.4,1264.3 C260.2,1265.7 263.5,1268.1 263.4,1269.6 C263.3,1271.1 261.1,1273.4 259.8,1273.4 C258.4,1273.4 256.5,1270.9 255.2,1269.6 C253.9,1268.3 253.2,1266.7 252.0,1265.8 C250.9,1264.9 249.4,1265.3 248.3,1264.3 C247.1,1263.4 246.5,1261.2 245.2,1260.1 C244.0,1258.9 242.2,1257.1 240.7,1257.5 C239.2,1257.9 237.5,1260.7 236.1,1262.5 C234.8,1264.3 233.6,1266.4 232.4,1268.6 C231.1,1270.7 229.7,1274.5 228.6,1275.2 C227.4,1275.9 226.4,1274.2 225.6,1272.6 C224.7,1271.1 224.3,1268.3 223.3,1265.8 C222.3,1263.3 220.9,1259.6 219.5,1257.5 C218.1,1255.4 216.5,1253.5 215.0,1253.0 C213.4,1252.4 211.9,1254.3 210.4,1254.0 C208.9,1253.8 207.2,1252.2 205.9,1251.4 C204.5,1250.7 202.4,1249.1 202.2,1249.5 C202.1,1249.9 204.4,1252.4 205.0,1253.7 C205.6,1255.1 206.3,1256.6 205.9,1257.7 C205.4,1258.7 203.7,1259.3 202.2,1260.1 C200.8,1260.8 198.3,1261.2 197.1,1262.2 C195.9,1263.2 196.3,1264.5 195.3,1266.1 C194.3,1267.7 192.5,1269.9 191.0,1271.9 C189.6,1273.8 187.8,1275.9 186.5,1277.9 C185.2,1280.0 184.5,1283.5 183.5,1284.0 C182.4,1284.5 181.2,1283.0 180.1,1281.0 C179.1,1278.9 178.1,1275.4 177.1,1271.9 C176.2,1268.3 175.0,1263.8 174.4,1259.8 C173.8,1255.7 173.1,1251.2 173.3,1247.7 C173.5,1244.1 175.2,1240.1 175.6,1238.6 Z" fill="#9cc0c5"/>
<path d="M266.7,1306.4 C267.4,1305.4 268.7,1302.5 271.0,1300.6 C273.2,1298.8 277.0,1297.7 280.0,1295.5 C283.1,1293.3 287.0,1290.0 289.4,1287.3 C291.9,1284.6 293.1,1281.1 294.6,1279.1 C296.0,1277.2 297.3,1275.5 298.2,1275.5 C299.1,1275.6 300.5,1277.0 300.0,1279.5 C299.5,1281.9 297.5,1286.8 295.2,1290.0 C292.9,1293.3 289.4,1296.4 286.1,1299.1 C282.8,1301.9 278.3,1304.7 275.5,1306.4 C272.7,1308.1 270.9,1309.1 269.5,1309.1 C268.0,1309.1 267.2,1306.8 266.7,1306.4 Z" fill="#9cc0c5"/>
<path d="M250.7,1279.5 C251.3,1280.1 252.7,1282.1 254.3,1283.4 C255.9,1284.7 258.1,1286.4 260.4,1287.3 C262.6,1288.3 265.7,1289.0 267.9,1289.1 C270.2,1289.3 273.1,1288.0 274.0,1288.2 C274.9,1288.4 274.6,1289.8 273.4,1290.3 C272.1,1290.9 268.8,1291.4 266.4,1291.3 C264.0,1291.1 261.1,1290.5 258.9,1289.4 C256.6,1288.4 254.3,1286.5 252.8,1285.2 C251.3,1283.9 250.1,1282.5 249.8,1281.6 C249.4,1280.6 250.5,1279.8 250.7,1279.5 Z" fill="#9cc0c5"/>
<path d="M264.3,1281.9 C265.2,1281.6 267.9,1280.8 269.5,1280.1 C271.0,1279.3 272.5,1277.3 273.4,1277.3 C274.2,1277.3 275.0,1278.9 274.6,1280.1 C274.2,1281.2 272.4,1283.5 271.0,1284.3 C269.6,1285.1 267.2,1285.3 266.1,1284.9 C265.0,1284.5 264.6,1282.4 264.3,1281.9 Z" fill="#9cc0c5"/>
<path d="M280.3,1223.7 C280.8,1223.6 281.9,1222.3 282.8,1223.1 C283.6,1224.0 285.2,1226.8 285.5,1228.9 C285.8,1231.0 285.2,1233.7 284.6,1235.6 C284.0,1237.4 282.6,1239.5 281.9,1240.1 C281.1,1240.7 279.9,1240.1 280.0,1239.2 C280.1,1238.2 282.0,1236.1 282.5,1234.3 C282.9,1232.6 283.1,1230.7 282.8,1228.9 C282.4,1227.1 280.8,1224.6 280.3,1223.7 Z" fill="#9cc0c5"/>
<path d="M271.0,1259.8 C271.4,1259.6 272.8,1257.6 273.4,1258.6 C274.0,1259.6 274.7,1263.6 274.6,1265.8 C274.5,1268.0 273.4,1271.6 272.8,1271.9 C272.2,1272.1 271.3,1269.4 271.0,1267.3 C270.7,1265.3 271.0,1261.0 271.0,1259.8 Z" fill="#9cc0c5"/>
<ellipse cx="246.7" cy="1190.4" rx="44" ry="17" fill="#eaf2f3" opacity=".85"/>
<ellipse cx="198.0" cy="1223.1" rx="5.1" ry="2.0" fill="#e6eff0" transform="rotate(-18 198.0 1223.1)"/>
<ellipse cx="207.7" cy="1230.7" rx="1.7" ry="4.5" fill="#e6eff0" transform="rotate(14 207.7 1230.7)"/>
<ellipse cx="215.0" cy="1220.4" rx="1.2" ry="3.3" fill="#e6eff0" transform="rotate(20 215.0 1220.4)"/>
<ellipse cx="202.8" cy="1253.7" rx="0.9" ry="4.5" fill="#e6eff0" transform="rotate(-28 202.8 1253.7)"/>
<ellipse cx="189.2" cy="1225.0" rx="2.1" ry="3.9" fill="#e6eff0" transform="rotate(25 189.2 1225.0)"/>
<ellipse cx="196.0" cy="1237.1" rx="1.5" ry="2.4" fill="#e6eff0" transform="rotate(0 196.0 1237.1)"/>
<path d="M216.5,1249.5 C218.5,1249.7 224.5,1250.6 228.6,1250.7 C232.6,1250.7 236.7,1249.9 240.7,1249.8 C244.7,1249.7 248.0,1250.3 252.8,1250.1 C257.6,1249.9 266.7,1248.8 269.5,1248.6" fill="none" stroke="#e4eef0" stroke-width=".9" stroke-dasharray="2.2 2"/>
<path d="M225.6,1215.6 C227.6,1215.4 233.6,1214.7 237.7,1214.7 C241.7,1214.7 245.7,1215.6 249.8,1215.6 C253.8,1215.6 259.9,1214.8 261.9,1214.7" fill="none" stroke="#e4eef0" stroke-width=".8" stroke-dasharray="2 2.4"/>
</g>
<circle cx="240.7" cy="1250.4" r="67" fill="none" stroke="#86a6ad" stroke-width="1.3" stroke-dasharray="2.2 1.6"/>
<path d="M238.5,1255.4 L242.3,1256.2 L243.9,1260.6 L241.3,1259.8 L238.9,1259.4 Z" fill="#e32a55"/>
<polyline class="ld" points="302.5,287.1 491.0,287.1"/>
<polyline class="ld" points="347.7,356.7 491.0,356.7"/>
<polyline class="ld" points="262.0,478.2 482.0,478.2"/>
<polyline class="ld" points="193.5,1087.0 224.8,1087.0"/>
<polyline class="ld" points="506.3,1078.5 536.8,1078.5"/>
<polyline class="ld" points="502.5,1179.3 536.8,1179.3"/>
<polyline class="ld" points="636.4,1157.4 707.7,1157.4"/>
<polyline class="ld" points="579.0,1081.5 578.6,979.3 684.7,979.3"/>
<circle class="dot" cx="302.5" cy="287.1" r="3.1"/>
<circle class="dot" cx="347.7" cy="356.7" r="3.1"/>
<circle class="dot" cx="262" cy="478.2" r="3.1"/>
<circle class="dot" cx="193.5" cy="1087" r="3.1"/>
<circle class="dot" cx="537" cy="1078.3" r="3.1"/>
<circle class="dot" cx="537.3" cy="1179.3" r="3.1"/>
<circle class="dot" cx="636.4" cy="1157.4" r="3.1"/>
<circle class="dot" cx="579" cy="1081.5" r="3.1"/>
<rect class="dot" x="645.3" y="1245.3" width="5.8" height="5.8" transform="rotate(45 648.2 1248.2)"/>
<text class="num" x="720.5" y="196.9" font-size="31.5" textLength="165.0" lengthAdjust="spacingAndGlyphs">1,102,566</text>
<text class="lab" x="727.0" y="226.4" font-size="21" textLength="158.5" lengthAdjust="spacingAndGlyphs">Total population</text>
<text class="num" x="499.7" y="286.9" font-size="24.5" textLength="92.0" lengthAdjust="spacingAndGlyphs">17,860</text>
<text class="lab" x="503.4" y="310.8" font-size="19.5" textLength="290.0" lengthAdjust="spacingAndGlyphs">Kutupalong Registered Camp</text>
<text class="num" x="504.4" y="359.8" font-size="24.5" textLength="109.2" lengthAdjust="spacingAndGlyphs">735,394</text>
<text class="lab" x="502.5" y="386.3" font-size="19.5" textLength="428.5" lengthAdjust="spacingAndGlyphs">Camp 1E, 1W, 2E, 2W, 3, 4, 4 Ext, 5, 6, 7, 8E,</text>
<text class="lab" x="502.5" y="408.0" font-size="19.5" textLength="431.3" lengthAdjust="spacingAndGlyphs">8W, 9, 10, 11, 12, 13, 17, 18, 19, 20, and 20 Ext</text>
<text class="num" x="504.4" y="466.7" font-size="24.5" textLength="106.0" lengthAdjust="spacingAndGlyphs">126,704</text>
<text class="lab" x="502.5" y="493.0" font-size="19.5" textLength="180.5" lengthAdjust="spacingAndGlyphs">Camp 14,15 and 16</text>
<text class="lab" x="129.5" y="536.6" font-size="19.5" textLength="85.0" lengthAdjust="spacingAndGlyphs">Choukali</text>
<text class="num" x="303.0" y="558.4" font-size="24.5" textLength="90.5" lengthAdjust="spacingAndGlyphs">19,535</text>
<text class="lab" x="303.0" y="583.8" font-size="19.5" textLength="85.5" lengthAdjust="spacingAndGlyphs">Camp 21</text>
<text class="num" x="536.8" y="604.0" font-size="24.5" textLength="48.2" lengthAdjust="spacingAndGlyphs">436</text>
<text class="lab" x="530.7" y="630.0" font-size="19.5" textLength="74.6" lengthAdjust="spacingAndGlyphs">Others*</text>
<text class="lab" x="191.4" y="692.0" font-size="19.5" textLength="172.6" lengthAdjust="spacingAndGlyphs">Camp 23 (closed)</text>
<text class="num" x="368.0" y="754.7" font-size="24.5" textLength="90.0" lengthAdjust="spacingAndGlyphs">24,741</text>
<text class="lab" x="369.2" y="779.3" font-size="19.5" textLength="88.8" lengthAdjust="spacingAndGlyphs">Camp 22</text>
<text class="lab" x="111.0" y="969.0" font-size="19.5" textLength="155.5" lengthAdjust="spacingAndGlyphs">Camp population</text>
<text class="num" x="239.0" y="1078.5" font-size="24.5" textLength="92.0" lengthAdjust="spacingAndGlyphs">36,920</text>
<text class="lab" x="240.0" y="1102.5" font-size="19.5" textLength="125.5" lengthAdjust="spacingAndGlyphs">Bhasan Char</text>
<text class="num" x="696.2" y="977.6" font-size="24.5" textLength="91.4" lengthAdjust="spacingAndGlyphs">32,377</text>
<text class="lab" x="695.4" y="1002.6" font-size="19.5" textLength="88.4" lengthAdjust="spacingAndGlyphs">Camp 24</text>
<text class="num" x="417.5" y="1071.0" font-size="24.5" textLength="90.5" lengthAdjust="spacingAndGlyphs">11,542</text>
<text class="lab" x="409.8" y="1093.5" font-size="19.5" textLength="90.2" lengthAdjust="spacingAndGlyphs">Camp 25</text>
<text class="num" x="406.5" y="1162.5" font-size="24.5" textLength="92.2" lengthAdjust="spacingAndGlyphs">23,410</text>
<text class="lab" x="287.5" y="1183.5" font-size="19.5" textLength="207.5" lengthAdjust="spacingAndGlyphs">Nayapara Registered</text>
<text class="lab" x="439.5" y="1204.4" font-size="19.5" textLength="56.0" lengthAdjust="spacingAndGlyphs">Camp</text>
<text class="num" x="712.0" y="1151.7" font-size="24.5" textLength="88.8" lengthAdjust="spacingAndGlyphs">48,341</text>
<text class="lab" x="709.5" y="1175.4" font-size="19.5" textLength="90.3" lengthAdjust="spacingAndGlyphs">Camp 26</text>
<text class="num" x="719.5" y="1237.0" font-size="24.5" textLength="90.5" lengthAdjust="spacingAndGlyphs">25,306</text>
<text class="lab" x="719.4" y="1258.7" font-size="19.5" textLength="89.6" lengthAdjust="spacingAndGlyphs">Camp 27</text>
<text class="ctry" x="386.5" y="842.3" font-size="20" textLength="184.5" lengthAdjust="spacing">BANGLADESH</text>
<text class="ctry" x="674.0" y="690.0" font-size="20" textLength="137.0" lengthAdjust="spacing">MYANMAR</text>
<circle cx="68.5" cy="160.8" r="7.6" fill="#f152a9"/>
<text x="68.5" y="164.3" font-size="9.5" font-weight="bold" fill="#fff" text-anchor="middle">1</text>
<text x="938" y="1242" font-size="12.5" font-weight="bold" fill="#3d4a52" text-anchor="middle">N</text>
<path d="M938,1245.5 L947.5,1276 L938,1268.5 L928.5,1276 Z" fill="none" stroke="#3d4a52" stroke-width="1.3" stroke-linejoin="round"/>
<path d="M938,1245.5 L938,1268.5 L928.5,1276 Z" fill="#3d4a52"/>
<rect x="912.5" y="1291.6" width="59.8" height="3.2" fill="#3d4a52"/>
<text class="lab" x="926.5" y="1312.3" font-size="12.5" textLength="30.5" lengthAdjust="spacingAndGlyphs">2 km</text>
<text class="lab" x="45.0" y="1353.6" font-size="9" textLength="248.5" lengthAdjust="spacingAndGlyphs">*Refugees pending validation of exact camp location.</text>
<text class="lab" x="45.0" y="1365.8" font-size="9" textLength="682.0" lengthAdjust="spacingAndGlyphs">The boundaries and names shown and the designations used on this map do not imply official endorsement or acceptance by the United Nations.</text>
<text x="887.5" y="1396.5" font-size="10.2" fill="#1c1c1c" stroke="#1c1c1c" stroke-width=".35" text-anchor="end" textLength="139" lengthAdjust="spacingAndGlyphs">Creation date: 31 March 2025</text>
<text x="972.8" y="1410.3" font-size="10.2" fill="#1c1c1c" stroke="#1c1c1c" stroke-width=".35" text-anchor="end" textLength="232" lengthAdjust="spacingAndGlyphs">Source: GoB - UNHCR Joint Registration Exercise</text>
</svg>
</body></html>
